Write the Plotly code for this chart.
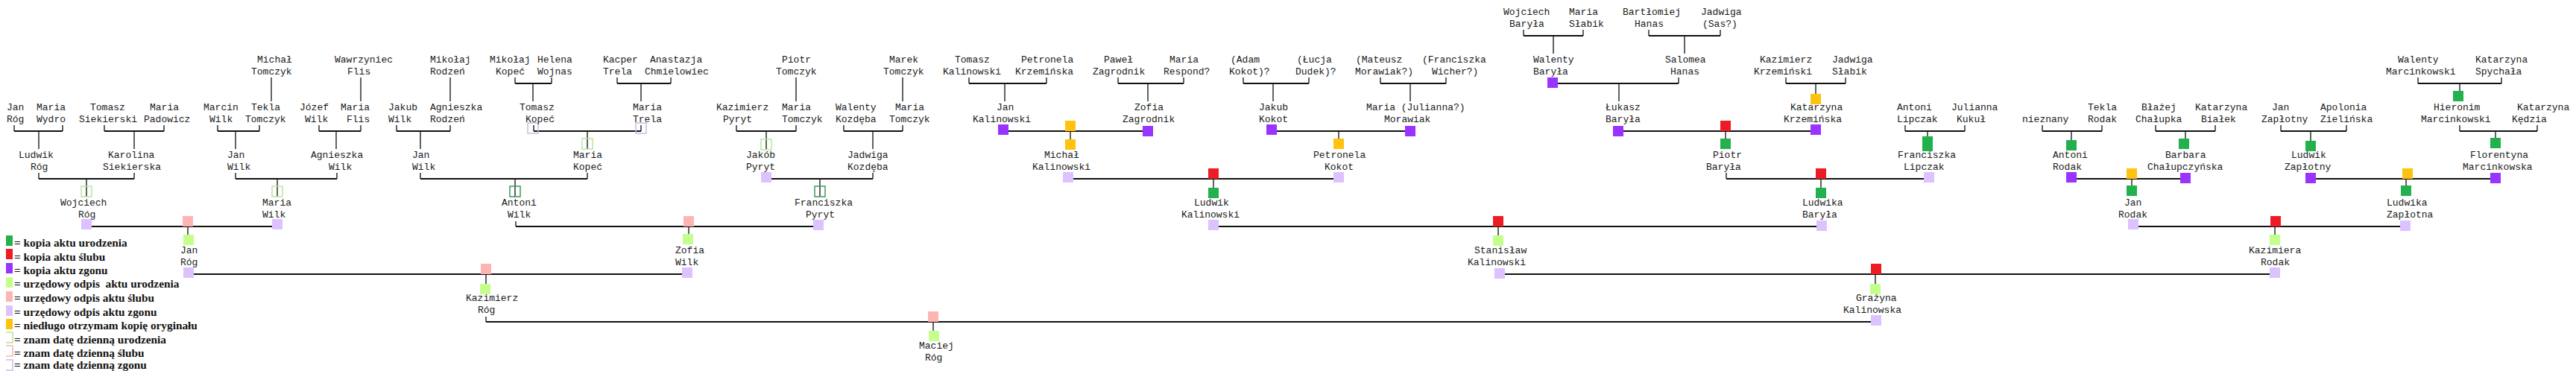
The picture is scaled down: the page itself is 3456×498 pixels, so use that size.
import plotly.graph_objects as go

W, H = 3456, 498
PAGE_MARGIN = 8  # default body margin of the html page; the plot is offset to compensate

# ---------------- people (two text lines each) ----------------
# generation row -> y of first text line (second line is 16 px lower)
ROW_Y = [16, 80, 144, 208, 272, 336, 400, 464]

line1 = ["Wojciech", "Maria", "Bartłomiej", "Jadwiga",
         "Michał", "Wawrzyniec", "Mikołaj", "Mikołaj", "Helena", "Kacper", "Anastazja",
         "Piotr", "Marek", "Tomasz", "Petronela", "Paweł", "Maria", "(Adam", "(Łucja",
         "(Mateusz", "(Franciszka", "Walenty", "Salomea", "Kazimierz", "Jadwiga",
         "Walenty", "Katarzyna",
         "Jan", "Maria", "Tomasz", "Maria", "Marcin", "Tekla", "Józef", "Maria", "Jakub",
         "Agnieszka", "Tomasz", "Maria", "Kazimierz", "Maria", "Walenty", "Maria", "Jan",
         "Zofia", "Jakub", "Maria (Julianna?)", "Łukasz", "Katarzyna", "Antoni", "Julianna",
         "", "Tekla", "Błażej", "Katarzyna", "Jan", "Apolonia", "Hieronim", "Katarzyna",
         "Ludwik", "Karolina", "Jan", "Agnieszka", "Jan", "Maria", "Jakób", "Jadwiga",
         "Michał", "Petronela", "Piotr", "Franciszka", "Antoni", "Barbara", "Ludwik",
         "Florentyna",
         "Wojciech", "Maria", "Antoni", "Franciszka", "Ludwik", "Ludwika", "Jan", "Ludwika",
         "Jan", "Zofia", "Stanisław", "Kazimiera",
         "Kazimierz", "Grażyna",
         "Maciej"]
line2 = ["Baryła", "Słabik", "Hanas", "(Sas?)",
         "Tomczyk", "Flis", "Rodzeń", "Kopeć", "Wojnas", "Trela", "Chmielowiec",
         "Tomczyk", "Tomczyk", "Kalinowski", "Krzemińska", "Zagrodnik", "Respond?", "Kokot)?",
         "Dudek)?", "Morawiak?)", "Wicher?)", "Baryła", "Hanas", "Krzemiński", "Słabik",
         "Marcinkowski", "Spychała",
         "Róg", "Wydro", "Siekierski", "Padowicz", "Wilk", "Tomczyk", "Wilk", "Flis", "Wilk",
         "Rodzeń", "Kopeć", "Trela", "Pyryt", "Tomczyk", "Kozdęba", "Tomczyk", "Kalinowski",
         "Zagrodnik", "Kokot", "Morawiak", "Baryła", "Krzemińska", "Lipczak", "Kukuł",
         "nieznany", "Rodak", "Chałupka", "Białek", "Zapłotny", "Zielińska", "Marcinkowski",
         "Kędzia",
         "Róg", "Siekierska", "Wilk", "Wilk", "Wilk", "Kopeć", "Pyryt", "Kozdęba",
         "Kalinowski", "Kokot", "Baryła", "Lipczak", "Rodak", "Chałupczyńska", "Zapłotny",
         "Marcinkowska",
         "Róg", "Wilk", "Wilk", "Pyryt", "Kalinowski", "Baryła", "Rodak", "Zapłotna",
         "Róg", "Wilk", "Kalinowski", "Rodak",
         "Róg", "Kalinowska",
         "Róg"]
generation = [0] * 4 + [1] * 23 + [2] * 32 + [3] * 16 + [4] * 8 + [5] * 4 + [6] * 2 + [7]
x_line1 = [2016, 2104, 2176, 2281,
           344, 448, 576, 656, 720, 808, 871, 1048, 1192, 1280, 1369, 1480, 1568, 1650,
           1739, 1818, 1907, 2056, 2233, 2360, 2457, 3216, 3320,
           8, 48, 120, 200, 272, 336, 401, 456, 520, 576, 696, 848, 960, 1048, 1120, 1200,
           1336, 1521, 1688, 1832, 2153, 2401, 2544, 2617, 2712, 2800, 2872, 2944, 3047,
           3112, 3264, 3376,
           24, 144, 304, 416, 552, 768, 1000, 1136, 1400, 1761, 2297, 2545, 2753, 2904,
           3073, 3313,
           80, 351, 672, 1065, 1601, 2417, 2849, 3201,
           241, 905, 1977, 3016,
           624, 2489,
           1232]
x_line2 = [2024, 2104, 2192, 2283,
           336, 465, 576, 664, 720, 808, 864, 1040, 1184, 1264, 1361, 1465, 1560, 1648,
           1737, 1817, 1920, 2056, 2240, 2352, 2457, 3200, 3320,
           8, 48, 105, 192, 280, 328, 408, 464, 520, 576, 704, 848, 969, 1048, 1120, 1192,
           1304, 1505, 1688, 1856, 2153, 2392, 2544, 2624, 2712, 2800, 2864, 2952, 3033,
           3112, 3247, 3369,
           40, 137, 304, 440, 552, 768, 1000, 1136, 1384, 1776, 2288, 2553, 2753, 2880,
           3064, 3303,
           104, 351, 680, 1080, 1584, 2417, 2841, 3201,
           241, 905, 1968, 3032,
           640, 2472,
           1240]

# ---------------- unions (couple line, child drop, optional end stubs) ----------------
# (x_left, x_right, line_y, x_drop, drop_end_y, stub_left_top, stub_right_top)
unions = [
    (2044, 2124, 48, 2084, 72, 40, 40), (2212, 2308, 48, 2260, 72, 40, 40),
    (691, 740, 112, 715, 136, 104, 104), (828, 900, 112, 860, 136, 104, 104),
    (1300, 1404, 112, 1348, 136, 104, 104), (1500, 1588, 112, 1540, 136, 104, 104),
    (1668, 1756, 112, 1708, 136, 104, 104), (1852, 1940, 112, 1892, 136, 104, 104),
    (2083, 2252, 112, 2172, 136, None, 104), (2396, 2476, 112, 2436, 136, 104, 104),
    (3244, 3356, 112, 3300, 136, 104, 104),
    (19, 84, 176, 52, 200, 168, 168), (140, 220, 176, 180, 200, 168, 168),
    (292, 348, 176, 316, 200, 168, 168), (428, 484, 176, 451, 200, 168, 168),
    (532, 604, 176, 564, 200, 168, 168), (716, 860, 176, 788, 200, 168, 168),
    (988, 1068, 176, 1028, 200, 168, 168), (1132, 1211, 176, 1171, 200, 168, 168),
    (1346, 1540, 176, 1436, 190, None, None), (1706, 1892, 176, 1796, 190, None, None),
    (2171, 2436, 176, 2315, 190, None, None), (2556, 2636, 176, 2586, 190, 168, 168),
    (2740, 2820, 176, 2779, 190, 168, 168), (2892, 2972, 176, 2932, 190, 168, 168),
    (3060, 3148, 176, 3100, 190, 168, 168), (3300, 3404, 176, 3348, 190, 168, 168),
    (52, 180, 240, 116, 264, 232, 232), (316, 452, 240, 372, 264, 232, 232),
    (564, 788, 240, 691, 264, 232, 232), (1028, 1171, 240, 1100, 264, None, 232),
    (1433, 1796, 240, 1628, 255, None, None), (2316, 2588, 240, 2443, 255, 232, None),
    (2779, 2932, 240, 2860, 255, None, None), (3100, 3348, 240, 3228, 255, None, None),
    (116, 372, 304, 252, 318, None, None), (692, 1098, 304, 924, 318, 297, None),
    (1628, 2444, 304, 2010, 318, None, None), (2862, 3227, 304, 3052, 318, None, None),
    (253, 922, 368, 652, 382, None, None), (2012, 3052, 368, 2516, 382, None, None),
    (652, 2517, 432, 1252, 446, 425, None),
]
# single-parent links (x, y_top, y_bottom)
single_links = [(364, 104, 136), (484, 104, 136), (604, 104, 136),
                (1068, 104, 136), (1211, 104, 136)]

# ---------------- document markers ----------------
mk_x = [2083, 2436, 3298,
        715, 860, 788, 1028, 1346, 1540, 1436, 1436, 1706, 1892, 1796, 2171, 2436, 2315,
        2315, 2586, 2586, 2779, 2930, 3100, 3348,
        116, 372, 691, 1100, 1028, 1433, 1628, 1628, 1796, 2443, 2443, 2588, 2779, 2860,
        2860, 2932, 3100, 3230, 3228, 3348,
        116, 372, 252, 253, 1098, 924, 923, 1628, 2010, 2010, 2444, 2862, 3227, 3053, 3052,
        253, 922, 652, 651, 2012, 3052, 2517, 2516,
        2517, 1252, 1253]
mk_y = [111, 133, 129,
        172, 172, 193, 194, 174, 176, 169, 194, 174, 176, 193, 176, 174, 169,
        193, 190, 196, 195, 193, 196, 192,
        257, 257, 257, 257, 238, 238, 233, 259, 238, 233, 259, 238, 238, 233,
        256, 239, 239, 233, 256, 239,
        301, 301, 297, 322, 302, 297, 321, 302, 297, 323, 303, 301, 303, 297, 322,
        366, 366, 361, 388, 367, 366, 361, 388,
        430, 425, 451]
mk_kind = ["P", "O", "G",
           "oLV", "oLV", "oLG", "oLG", "P", "P", "O", "O", "P", "P", "O", "P", "P", "R",
           "G", "G", "G", "G", "G", "G", "G",
           "oLG", "oLG", "oG", "oG", "LV", "LV", "R", "G", "LV", "R", "G", "LV", "P", "O",
           "G", "P", "P", "O", "G", "P",
           "LV", "LV", "PK", "LG", "LV", "PK", "LG", "LV", "R", "LG", "LV", "LV", "LV", "R", "LG",
           "LV", "LV", "PK", "LG", "LV", "LV", "R", "LG",
           "LV", "PK", "LG"]

# ---------------- legend ----------------
leg_kind = ["G", "R", "P", "LG", "PK", "LV", "O", "oLG", "oPK", "oLV"]
leg_label = ["= kopia aktu urodzenia", "= kopia aktu ślubu", "= kopia aktu zgonu",
             "= urzędowy odpis  aktu urodzenia", "= urzędowy odpis aktu ślubu",
             "= urzędowy odpis aktu zgonu", "= niedługo otrzymam kopię oryginału",
             "= znam datę dzienną urodzenia", "= znam datę dzienną ślubu",
             "= znam datę dzienną zgonu"]
leg_y = [323, 341, 360, 379, 398, 417, 435, 453, 471, 490]
leg_text_y = [325, 344, 362, 380, 399, 418, 436, 455, 473, 489]

# ---------------- styles ----------------
FILL = {"G": "#22b14c", "R": "#ed1c24", "P": "#9933ff", "LG": "#c4ff8e",
        "PK": "#ffb4b4", "LV": "#dcc2ff", "O": "#ffc20e"}
OUTLINE = {"oLG": "#b8e6a0", "oPK": "#f2b8b8", "oLV": "#cdbbe8", "oG": "#3a9a5c"}

fig = go.Figure()

# horizontal couple lines + vertical links
hx, hy, vx, vy = [], [], [], []
for xl, xr, y, xd, yd, sl, sr in unions:
    hx += [xl, xr, None]
    hy += [y, y, None]
    vx += [xd, xd, None]
    vy += [y, yd, None]
    if sl is not None:
        vx += [xl, xl, None]
        vy += [sl, y, None]
    if sr is not None:
        vx += [xr, xr, None]
        vy += [sr, y, None]
for x, y0, y1 in single_links:
    vx += [x, x, None]
    vy += [y0, y1, None]

fig.add_trace(go.Scatter(x=vx, y=vy, mode="lines",
                         line=dict(color="#5e6460", width=2), hoverinfo="skip"))
fig.add_trace(go.Scatter(x=hx, y=hy, mode="lines",
                         line=dict(color="#111111", width=2), hoverinfo="skip"))

# markers
all_x = mk_x + [10] * len(leg_kind)
all_y = mk_y + leg_y
all_k = mk_kind + leg_kind
for k in list(FILL) + list(OUTLINE):
    xs = [x for x, kk in zip(all_x, all_k) if kk == k]
    ys = [y for y, kk in zip(all_y, all_k) if kk == k]
    if not xs:
        continue
    if k in FILL:
        mk = dict(symbol="square", size=14, color=FILL[k], line=dict(width=0))
    else:
        mk = dict(symbol="square-open", size=14, color=OUTLINE[k], line=dict(width=1.5))
    fig.add_trace(go.Scatter(x=xs, y=ys, mode="markers", marker=mk, hoverinfo="skip"))

# names
ann = []
for t1, t2, g, a1, a2 in zip(line1, line2, generation, x_line1, x_line2):
    y0 = ROW_Y[g]
    for t, xx, yy in ((t1, a1, y0), (t2, a2, y0 + 16)):
        if t:
            ann.append(dict(x=xx, y=yy, text=t, xanchor="left", yanchor="middle",
                            showarrow=False, borderpad=0,
                            font=dict(family="Liberation Mono, Courier New, monospace",
                                      size=13, color="#1a1a1a")))
for lab, yy in zip(leg_label, leg_text_y):
    ann.append(dict(x=18, y=yy, text="<b>" + lab + "</b>", xanchor="left",
                    yanchor="middle", showarrow=False, borderpad=0,
                    font=dict(family="Liberation Serif, Times New Roman, serif",
                              size=15.3, color="#111111")))

m = PAGE_MARGIN
fig.update_layout(
    width=W - m, height=H - m, margin=dict(l=0, r=0, t=0, b=0),
    paper_bgcolor="white", plot_bgcolor="white", showlegend=False,
    xaxis=dict(range=[m, W], visible=False, fixedrange=True),
    yaxis=dict(range=[H, m], visible=False, fixedrange=True),
    annotations=ann,
)
fig.write_html("out.html", config={"displayModeBar": False})
